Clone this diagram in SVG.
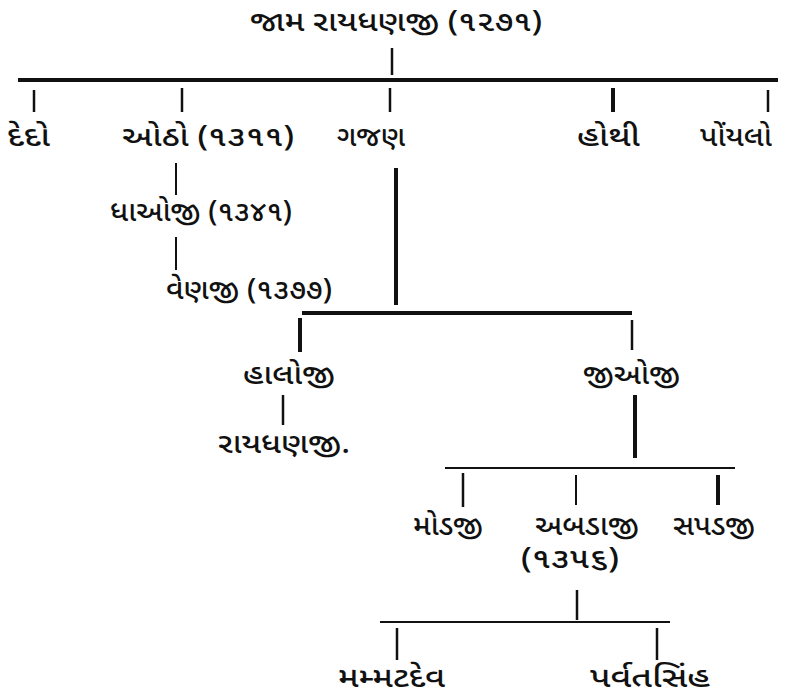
<svg xmlns="http://www.w3.org/2000/svg" width="786" height="700" viewBox="0 0 786 700">
<style>
text{font-family:"Noto Sans Gujarati","Lohit Gujarati","Noto Serif Gujarati","Noto Sans",sans-serif;font-size:28px;font-weight:500;fill:#111;}
.l{stroke:#111;stroke-linecap:butt;fill:none;}
.t{stroke-width:2.5;}
.k{stroke-width:4;}
.n{stroke-width:2;}
</style>
<rect width="786" height="700" fill="#fff"/>
<g id="connectors">
<line class="l t" x1="392" y1="48" x2="392" y2="75"/>
<line class="l k" x1="18" y1="80" x2="778" y2="80"/>
<line class="l t" x1="34" y1="90" x2="34" y2="112"/>
<line class="l t" x1="182" y1="88" x2="182" y2="112"/>
<line class="l t" x1="390" y1="88" x2="390" y2="112"/>
<line class="l k" x1="613" y1="88" x2="613" y2="112"/>
<line class="l t" x1="768" y1="90" x2="768" y2="112"/>
<line class="l n" x1="176" y1="163" x2="176" y2="195"/>
<line class="l n" x1="176" y1="237" x2="176" y2="270"/>
<line class="l k" x1="396" y1="168" x2="396" y2="305"/>
<line class="l k" x1="302" y1="313" x2="632" y2="313"/>
<line class="l k" x1="300" y1="318" x2="300" y2="352"/>
<line class="l t" x1="632" y1="320" x2="632" y2="350"/>
<line class="l t" x1="283" y1="395" x2="283" y2="425"/>
<line class="l k" x1="635" y1="395" x2="635" y2="458"/>
<line class="l n" x1="445" y1="468" x2="735" y2="468"/>
<line class="l t" x1="463" y1="473" x2="463" y2="507"/>
<line class="l n" x1="576" y1="475" x2="576" y2="505"/>
<line class="l k" x1="718" y1="475" x2="718" y2="505"/>
<line class="l t" x1="577" y1="590" x2="577" y2="620"/>
<line class="l n" x1="380" y1="622" x2="670" y2="622"/>
<line class="l t" x1="397" y1="628" x2="397" y2="660"/>
<line class="l t" x1="657" y1="628" x2="657" y2="660"/>
</g>
<g id="n-root"><text x="250" y="31" textLength="292" lengthAdjust="spacingAndGlyphs">જામ રાયધણજી (૧૨૭૧)</text></g>
<g id="n-dedo"><text x="7" y="146" textLength="43" lengthAdjust="spacingAndGlyphs">દેદો</text></g>
<g id="n-otho"><text x="122" y="146" textLength="172" lengthAdjust="spacingAndGlyphs">ઓઠો (૧૩૧૧)</text></g>
<g id="n-gajan"><text x="337" y="146" textLength="68" lengthAdjust="spacingAndGlyphs">ગજણ</text></g>
<g id="n-hothi"><text x="577" y="146" textLength="63" lengthAdjust="spacingAndGlyphs">હોથી</text></g>
<g id="n-poyalo"><text x="700" y="146" textLength="72" lengthAdjust="spacingAndGlyphs">પોંયલો</text></g>
<g id="n-dhaoji"><text x="110" y="221" textLength="182" lengthAdjust="spacingAndGlyphs">ધાઓજી (૧૩૪૧)</text></g>
<g id="n-venuji"><text x="166" y="299" textLength="166" lengthAdjust="spacingAndGlyphs">વેણજી (૧૩૭૭)</text></g>
<g id="n-haloji"><text x="243" y="384" textLength="92" lengthAdjust="spacingAndGlyphs">હાલોજી</text></g>
<g id="n-jioji"><text x="583" y="384" textLength="97" lengthAdjust="spacingAndGlyphs">જીઓજી</text></g>
<g id="n-rayadhanji"><text x="218" y="453" textLength="132" lengthAdjust="spacingAndGlyphs">રાયધણજી.</text></g>
<g id="n-modji"><text x="413" y="535" textLength="70" lengthAdjust="spacingAndGlyphs">મોડજી</text></g>
<g id="n-abdaji"><text x="535" y="535" textLength="104" lengthAdjust="spacingAndGlyphs">અબડાજી</text><text x="521" y="568" textLength="98" lengthAdjust="spacingAndGlyphs">(૧૩૫૬)</text></g>
<g id="n-sapadji"><text x="673" y="535" textLength="82" lengthAdjust="spacingAndGlyphs">સપડજી</text></g>
<g id="n-mammatdev"><text x="338" y="687" textLength="107" lengthAdjust="spacingAndGlyphs">મમ્મટદેવ</text></g>
<g id="n-parvatsinh"><text x="590" y="687" textLength="120" lengthAdjust="spacingAndGlyphs">પર્વતસિંહ</text></g>
</svg>
